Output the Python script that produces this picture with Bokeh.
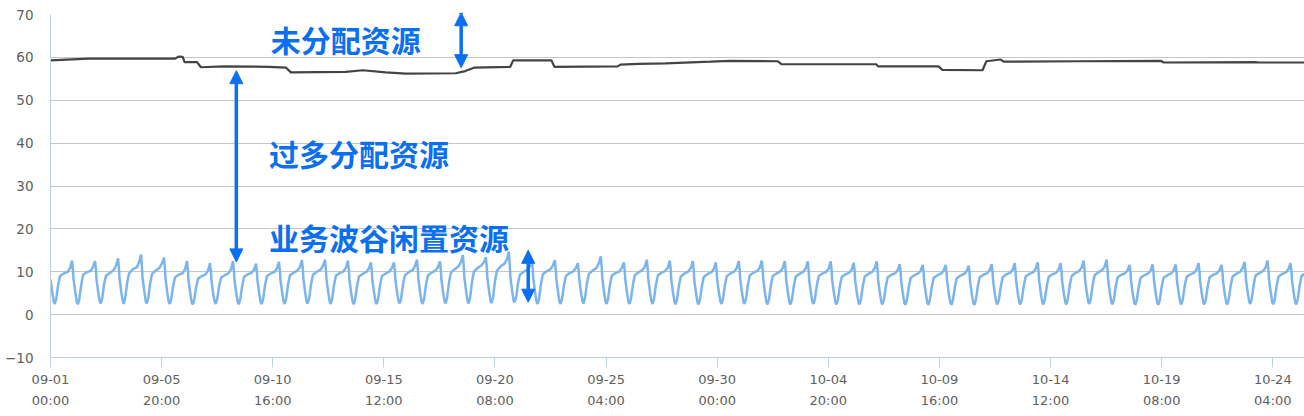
import pandas as pd
from bokeh.plotting import figure
from bokeh.models import (Range1d, FixedTicker, DatetimeTickFormatter, SingleIntervalTicker,
                          Arrow, NormalHead, ColumnDataSource)
from bokeh.core.properties import value
from bokeh.embed import file_html
from bokeh.resources import INLINE

# ---------------- data ----------------
START = "2017-09-01 00:00"
TICK_LABELS = ["09-01 00:00", "09-05 20:00", "09-10 16:00", "09-15 12:00", "09-20 08:00",
               "09-25 04:00", "09-30 00:00", "10-04 20:00", "10-09 16:00", "10-14 12:00",
               "10-19 08:00", "10-24 04:00"]

# allocated resources (dark line): hours since start, value
ALLOC_HOURS = [0, 40, 130, 134, 138, 140, 153, 157, 181, 228, 246, 251, 308, 326, 350, 371,
               423, 433, 442, 480, 483, 523, 526, 592, 595, 614, 642, 689, 710, 759, 763,
               862, 864, 927, 931, 973, 977, 992, 995, 1075, 1159, 1162, 1258, 1261, 1309]
ALLOC_VALUES = [59.3, 59.7, 59.7, 60.2, 60.1, 58.9, 58.9, 57.7, 57.9, 57.8, 57.6, 56.5, 56.6,
                57.0, 56.5, 56.2, 56.3, 56.8, 57.6, 57.8, 59.3, 59.3, 57.8, 57.9, 58.3, 58.5,
                58.6, 59.0, 59.2, 59.1, 58.4, 58.4, 57.9, 57.9, 57.1, 57.0, 59.1, 59.5, 59.0,
                59.1, 59.2, 58.8, 58.9, 58.8, 58.8]

# used resources (blue line): one row per day, values at these hours of the day
DAY_HOURS = [0, 2, 3.5, 4.5, 6, 8, 10, 14, 18, 20.5, 22.5, 23.5]
USAGE_BY_DAY = [
    [8.2, 5.0, 3.0, 2.5, 3.7, 7.0, 9.0, 9.6, 10.0, 10.9, 12.6, 10.3],
    [8.4, 5.1, 2.9, 2.4, 3.5, 6.8, 9.3, 9.9, 10.2, 11.2, 12.5, 10.4],
    [8.3, 4.9, 3.0, 2.6, 3.8, 7.2, 9.1, 9.7, 10.4, 11.5, 13.1, 10.6],
    [8.6, 5.1, 3.1, 2.5, 3.9, 7.4, 9.6, 10.6, 11.0, 12.2, 14.0, 11.0],
    [8.8, 5.3, 3.0, 2.6, 3.7, 7.3, 9.5, 10.3, 11.0, 12.0, 13.3, 10.7],
    [8.5, 5.0, 2.9, 2.5, 3.5, 6.6, 8.7, 9.3, 9.7, 10.6, 12.5, 10.2],
    [8.2, 4.8, 2.8, 2.4, 3.4, 6.4, 8.4, 9.0, 9.4, 10.3, 12.0, 10.0],
    [8.0, 4.7, 2.9, 2.5, 3.6, 6.6, 8.6, 9.2, 9.7, 10.6, 12.5, 10.2],
    [8.2, 4.9, 2.9, 2.4, 3.5, 6.5, 8.8, 9.4, 9.8, 10.5, 11.9, 9.9],
    [8.0, 4.8, 2.8, 2.5, 3.6, 6.9, 9.0, 9.6, 10.0, 10.8, 12.3, 10.1],
    [8.2, 4.9, 3.0, 2.5, 3.7, 7.0, 9.2, 9.8, 10.3, 11.2, 12.7, 10.5],
    [8.4, 5.0, 2.9, 2.6, 3.8, 7.1, 9.3, 10.0, 10.5, 11.4, 12.8, 10.6],
    [8.5, 5.1, 3.0, 2.5, 3.6, 6.9, 9.1, 9.7, 10.1, 11.0, 12.6, 10.4],
    [8.3, 4.9, 2.9, 2.4, 3.5, 6.7, 8.9, 9.5, 10.0, 10.8, 12.2, 10.1],
    [8.1, 4.8, 2.8, 2.5, 3.6, 6.8, 9.0, 9.6, 10.1, 10.9, 12.2, 10.2],
    [8.2, 4.9, 3.0, 2.6, 3.7, 7.1, 9.2, 9.9, 10.4, 11.3, 12.8, 10.5],
    [8.4, 5.0, 2.9, 2.5, 3.6, 7.0, 9.1, 9.8, 10.3, 11.1, 12.4, 10.3],
    [8.3, 5.0, 3.0, 2.6, 3.9, 7.5, 9.8, 10.6, 11.3, 12.3, 13.9, 11.0],
    [8.8, 5.2, 3.1, 2.6, 3.9, 7.6, 10.0, 10.9, 11.5, 12.2, 13.4, 10.9],
    [8.7, 5.2, 3.0, 2.7, 4.0, 7.8, 10.2, 11.3, 11.9, 12.9, 14.7, 11.4],
    [9.0, 5.4, 3.2, 2.9, 3.9, 7.2, 9.3, 10.0, 10.5, 11.3, 12.6, 10.4],
    [8.4, 5.0, 2.9, 2.5, 3.7, 7.1, 9.4, 10.1, 10.6, 11.5, 12.7, 10.5],
    [8.5, 5.0, 2.9, 2.5, 3.6, 6.8, 9.0, 9.7, 10.1, 10.9, 12.0, 10.0],
    [8.2, 4.9, 3.0, 2.6, 3.9, 7.3, 9.5, 10.3, 10.9, 12.0, 13.6, 10.8],
    [8.6, 5.1, 2.9, 2.5, 3.6, 6.9, 9.1, 9.7, 10.1, 10.9, 12.2, 10.1],
    [8.2, 4.9, 2.9, 2.5, 3.7, 7.0, 9.2, 9.9, 10.4, 11.2, 12.8, 10.5],
    [8.4, 5.0, 3.0, 2.5, 3.6, 6.9, 9.1, 9.8, 10.2, 11.0, 12.6, 10.4],
    [8.3, 4.9, 2.9, 2.4, 3.5, 6.7, 8.9, 9.6, 10.1, 10.9, 12.5, 10.3],
    [8.2, 4.8, 2.8, 2.4, 3.5, 6.6, 8.8, 9.5, 9.9, 10.7, 12.2, 10.1],
    [8.1, 4.8, 2.9, 2.5, 3.6, 6.8, 9.0, 9.6, 10.1, 10.9, 12.5, 10.3],
    [8.3, 4.9, 2.9, 2.5, 3.6, 6.9, 9.1, 9.8, 10.2, 11.0, 12.6, 10.4],
    [8.3, 4.9, 2.8, 2.4, 3.5, 6.8, 9.0, 9.6, 10.1, 10.9, 12.5, 10.3],
    [8.2, 4.8, 2.8, 2.4, 3.5, 6.7, 8.9, 9.5, 10.0, 10.8, 12.4, 10.2],
    [8.2, 4.8, 2.9, 2.5, 3.6, 6.8, 9.0, 9.6, 10.0, 10.8, 12.4, 10.2],
    [8.1, 4.8, 2.8, 2.4, 3.4, 6.6, 8.8, 9.4, 9.8, 10.6, 12.1, 10.0],
    [8.0, 4.7, 2.8, 2.4, 3.5, 6.7, 8.9, 9.5, 10.0, 10.8, 12.4, 10.2],
    [8.1, 4.7, 2.8, 2.4, 3.4, 6.5, 8.7, 9.3, 9.7, 10.4, 11.8, 9.8],
    [7.9, 4.6, 2.7, 2.3, 3.4, 6.4, 8.6, 9.2, 9.6, 10.3, 11.6, 9.7],
    [7.8, 4.6, 2.7, 2.3, 3.4, 6.4, 8.6, 9.2, 9.6, 10.3, 11.6, 9.7],
    [7.8, 4.5, 2.7, 2.3, 3.3, 6.3, 8.5, 9.1, 9.5, 10.2, 11.4, 9.6],
    [7.7, 4.5, 2.7, 2.3, 3.4, 6.5, 8.7, 9.3, 9.7, 10.4, 11.8, 9.8],
    [7.9, 4.6, 2.8, 2.4, 3.4, 6.5, 8.7, 9.4, 9.8, 10.5, 12.0, 9.9],
    [8.0, 4.7, 2.8, 2.4, 3.5, 6.7, 8.9, 9.5, 9.9, 10.7, 12.2, 10.1],
    [8.1, 4.7, 2.8, 2.4, 3.5, 6.6, 8.8, 9.4, 9.8, 10.6, 12.0, 10.0],
    [8.0, 4.7, 2.8, 2.4, 3.6, 6.8, 9.0, 9.7, 10.2, 11.0, 12.6, 10.4],
    [8.3, 4.9, 2.9, 2.5, 3.7, 7.0, 9.2, 9.9, 10.4, 11.2, 12.8, 10.5],
    [8.4, 4.9, 2.9, 2.4, 3.4, 6.5, 8.7, 9.3, 9.7, 10.4, 11.6, 9.7],
    [7.8, 4.6, 2.7, 2.3, 3.4, 6.4, 8.6, 9.2, 9.6, 10.3, 11.7, 9.8],
    [7.9, 4.6, 2.7, 2.3, 3.4, 6.5, 8.6, 9.2, 9.6, 10.3, 11.7, 9.8],
    [7.9, 4.6, 2.8, 2.4, 3.5, 6.6, 8.8, 9.4, 9.8, 10.6, 12.0, 10.0],
    [8.0, 4.7, 2.8, 2.4, 3.4, 6.5, 8.7, 9.3, 9.7, 10.4, 11.6, 9.7],
    [7.9, 4.6, 2.8, 2.4, 3.5, 6.7, 8.9, 9.5, 10.0, 10.8, 12.3, 10.2],
    [8.2, 4.8, 2.9, 2.5, 3.6, 6.9, 9.1, 9.7, 10.2, 11.0, 12.6, 10.4],
    [8.3, 4.9, 2.9, 2.4, 3.5, 6.7, 8.9, 9.5, 9.9, 10.7, 12.0, 10.0],
    [8.1, 4.8, 2.8, 2.4, 3.5, 6.8, 9.0, 9.6],
]

# annotations: (text, hours since start, value)
NOTE_TEXTS = ["未分配资源", "过多分配资源", "业务波谷闲置资源"]
NOTE_HOURS = [230, 228, 228]
NOTE_VALUES = [64.4, 37.6, 18.0]
# double arrows: hours since start, value from, value to
ARROW_HOURS = [428.7, 194.0, 498.7]
ARROW_FROM = [70.4, 56.9, 15.0]
ARROW_TO = [57.6, 12.3, 2.9]

X_END_HOURS = 1309.1

# ---------------- build ----------------
t0 = pd.Timestamp(START)
HOUR_MS = 3600 * 1000.0
t0_ms = t0.value / 1e6


def at(h):
    return t0 + pd.Timedelta(hours=h)


use_x, use_y = [], []
for d, row in enumerate(USAGE_BY_DAY):
    for h, v in zip(DAY_HOURS, row):
        use_x.append(at(d * 24 + h))
        use_y.append(v)

alloc_x = [at(h) for h in ALLOC_HOURS]

tick_ms = [pd.Timestamp("2017-" + s).value / 1e6 for s in TICK_LABELS]

p = figure(width=1304, height=414, x_axis_type="datetime",
           output_backend="svg", toolbar_location=None,
           x_range=Range1d(t0_ms, t0_ms + X_END_HOURS * HOUR_MS),
           y_range=Range1d(-10, 70),
           min_border_left=50, min_border_right=0, min_border_top=14, min_border_bottom=57)
p.outline_line_color = None
p.background_fill_color = "white"

p.line(alloc_x, ALLOC_VALUES, line_color="#434348", line_width=2.2)
p.line(use_x, use_y, line_color="#7cb5ec", line_width=2.5)

# axes
fmt = "%m-%d\n%H:%M"
p.xaxis.ticker = FixedTicker(ticks=tick_ms)
p.xaxis.formatter = DatetimeTickFormatter(
    microseconds=fmt, milliseconds=fmt, seconds=fmt, minsec=fmt, minutes=fmt,
    hourmin=fmt, hours=fmt, days=fmt, months=fmt, years=fmt,
    context=None, strip_leading_zeros=False)
p.xaxis.axis_line_color = "#c0d0e0"
p.xaxis.major_tick_line_color = "#c0d0e0"
p.xaxis.major_tick_out = 10
p.xaxis.major_tick_in = 0
p.xaxis.minor_tick_line_color = None
p.xaxis.major_label_standoff = 4
p.xaxis.major_label_text_font = "DejaVu Sans"
p.xaxis.major_label_text_font_size = "13px"
p.xaxis.major_label_text_color = "#606060"
p.xaxis.major_label_text_line_height = 1.45

p.yaxis.ticker = SingleIntervalTicker(interval=10)
p.yaxis.axis_line_color = "#c0d0e0"
p.yaxis.major_tick_line_color = None
p.yaxis.major_tick_out = 0
p.yaxis.major_tick_in = 0
p.yaxis.minor_tick_line_color = None
p.yaxis.minor_tick_out = 0
p.yaxis.major_label_standoff = 17
p.yaxis.major_label_text_font = "DejaVu Sans"
p.yaxis.major_label_text_font_size = "13.5px"
p.yaxis.major_label_text_color = "#606060"

p.xgrid.grid_line_color = None
p.ygrid.ticker = SingleIntervalTicker(interval=10)
p.ygrid.grid_line_color = "#c6c6c6"
p.ygrid.grid_line_width = 1

# annotations
BLUE = "#0a6ff0"
src = ColumnDataSource(dict(x=[at(h) for h in NOTE_HOURS], y=NOTE_VALUES, t=NOTE_TEXTS))
p.text(x="x", y="y", text="t", source=src, text_font=value("Noto Sans CJK SC"),
       text_font_style="bold", text_font_size="30px", text_color=BLUE,
       text_baseline="middle", text_align="left")

for h, a, b in zip(ARROW_HOURS, ARROW_FROM, ARROW_TO):
    xm = t0_ms + h * HOUR_MS
    p.add_layout(Arrow(start=NormalHead(size=13, fill_color=BLUE, line_color=BLUE),
                       end=NormalHead(size=13, fill_color=BLUE, line_color=BLUE),
                       x_start=xm, y_start=a, x_end=xm, y_end=b,
                       line_color=BLUE, line_width=3.5))

open("out.html", "w").write(file_html(p, INLINE))
